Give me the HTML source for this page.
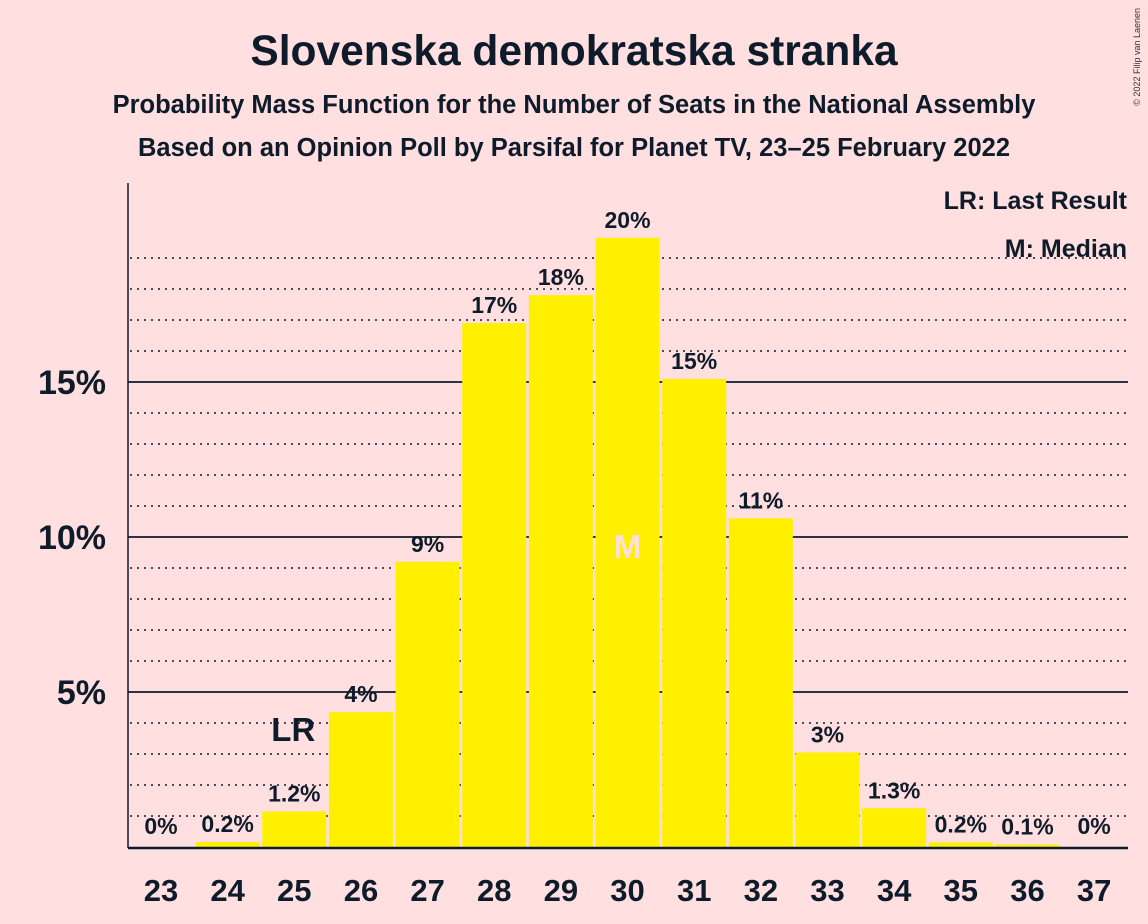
<!DOCTYPE html>
<html><head><meta charset="utf-8"><style>
body{margin:0;background:#ffdfdf;}
svg{display:block;font-family:"Liberation Sans",sans-serif;font-weight:bold;}
</style></head><body>
<svg id="c" width="1148" height="924">
<rect width="1148" height="924" fill="#ffdfdf"/>
<text x="574" y="65" text-anchor="middle" font-size="42.5" fill="#0d1b2a">Slovenska demokratska stranka</text>
<text x="574" y="113" text-anchor="middle" font-size="25.5" fill="#0d1b2a">Probability Mass Function for the Number of Seats in the National Assembly</text>
<text x="574" y="156" text-anchor="middle" font-size="25.5" fill="#0d1b2a">Based on an Opinion Poll by Parsifal for Planet TV, 23–25 February 2022</text>
<text x="1140" y="8" font-size="9" font-weight="normal" fill="#333" transform="rotate(-90 1140 8)" text-anchor="end">© 2022 Filip van Laenen</text>
<g id="grid"></g>
<g id="bars"></g>
<g id="labels"></g>
<line x1="128" y1="183" x2="128" y2="848" stroke="#0d1b2a" stroke-width="1.5"/>
<line x1="128" y1="848" x2="1128" y2="848" stroke="#0d1b2a" stroke-width="2.5"/>
<text x="1127" y="209" text-anchor="end" font-size="25" fill="#0d1b2a">LR: Last Result</text>
<text x="1127" y="257" text-anchor="end" font-size="25" fill="#0d1b2a">M: Median</text>
</svg>
<script>
const seats=[23,24,25,26,27,28,29,30,31,32,33,34,35,36,37];
const probs=[0,0.16,1.15,4.35,9.2,16.9,17.8,19.65,15.1,10.6,3.05,1.25,0.15,0.08,0];
const labels=["0%","0.2%","1.2%","4%","9%","17%","18%","20%","15%","11%","3%","1.3%","0.2%","0.1%","0%"];
const yTicks=[5,10,15];
const yTickLabels=["5%","10%","15%"];
const lastResult=25, median=30;
const NS="http://www.w3.org/2000/svg";
const y=v=>847-v*31;
const x=s=>161+(s-23)*66.65;
const grid=document.getElementById('grid'),bars=document.getElementById('bars'),lab=document.getElementById('labels');
function mk(tag,attrs,parent,text){const e=document.createElementNS(NS,tag);for(const k in attrs)e.setAttribute(k,attrs[k]);if(text!==undefined)e.textContent=text;parent.appendChild(e);return e;}
for(let p=1;p<=19;p++){
  if(p%5===0)continue;
  const l=mk('line',{x1:130,x2:1128,y1:y(p),y2:y(p),stroke:'#0d1b2a','stroke-width':1.6,'stroke-dasharray':'2,5'},grid);
  
  
}
yTicks.forEach((t,i)=>{
  const l=mk('line',{x1:128,x2:1128,y1:y(t),y2:y(t),stroke:'#0d1b2a','stroke-width':1.8},grid);
  
  
  const tx=mk('text',{x:106,y:y(t)+12,'text-anchor':'end','font-size':34,fill:'#0d1b2a'},grid,yTickLabels[i]);
  
  
});
seats.forEach((s,i)=>{
  const v=probs[i];
  if(v>0){
    const r=mk('rect',{x:x(s)-32,y:y(v),width:64,height:847-y(v),fill:'#fff000'},bars);
    
    
  }
  const t=mk('text',{x:x(s),y:y(v)-10,'text-anchor':'middle','font-size':23,fill:'#0d1b2a'},lab,labels[i]);
  if(v===0)t.setAttribute('y',834);
  
  
  const xt=mk('text',{x:x(s),y:901,'text-anchor':'middle','font-size':31,fill:'#0d1b2a'},lab,String(s));
  
  
});
const lr=mk('text',{x:x(lastResult)-1,y:741,'text-anchor':'middle','font-size':33,fill:'#0d1b2a'},lab,'LR');


const m=mk('text',{x:x(median),y:558,'text-anchor':'middle','font-size':33,fill:'#ffdfdf'},lab,'M');


</script>
</body></html>
